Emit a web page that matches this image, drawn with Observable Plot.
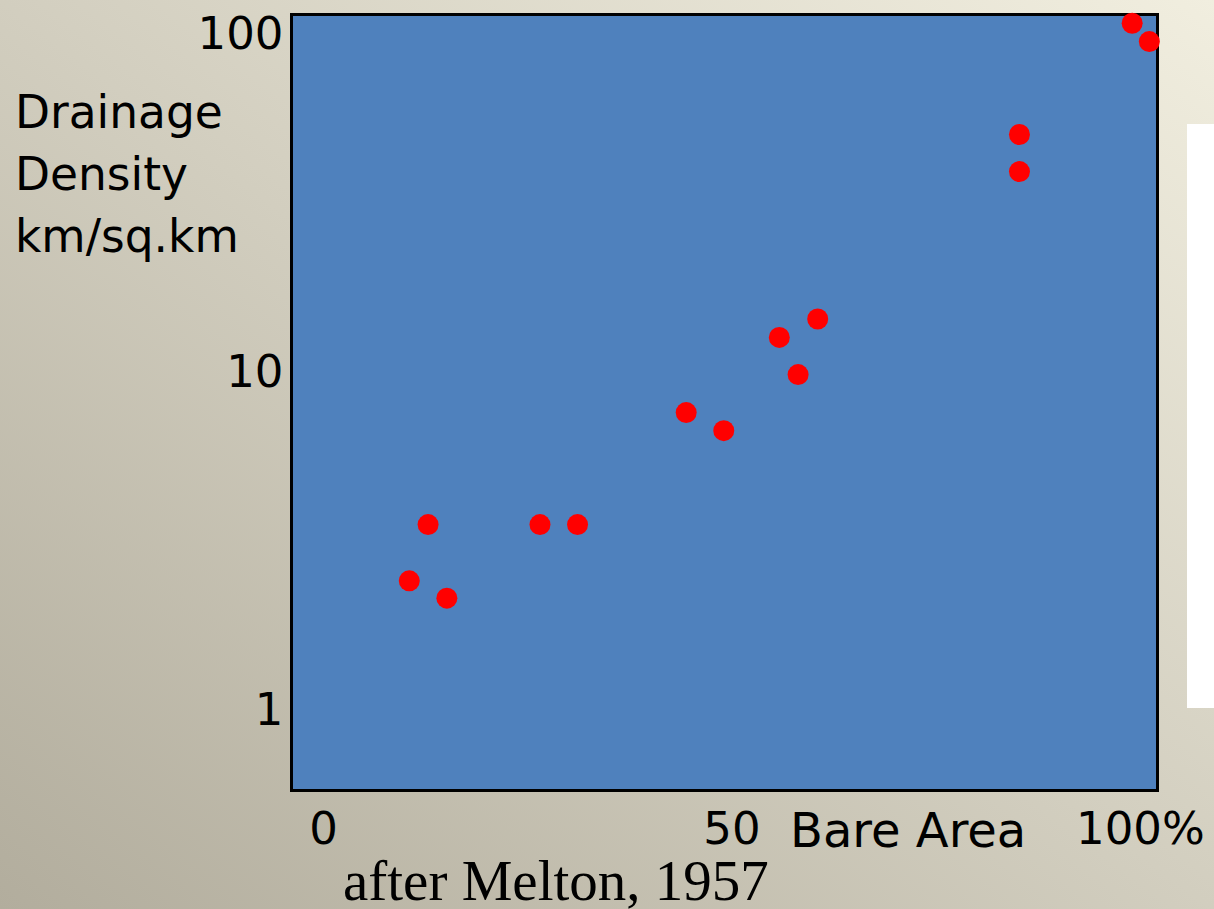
<!DOCTYPE html>
<html>
<head>
<meta charset="utf-8">
<script src="https://cdn.jsdelivr.net/npm/d3@7"></script>
<script src="https://cdn.jsdelivr.net/npm/@observablehq/plot@0.6"></script>
<style>
  html, body { margin: 0; padding: 0; }
  body {
    width: 1214px; height: 909px; overflow: hidden; position: relative;
    background: linear-gradient(to top right, #b2ad9d 0%, #d2cebf 50%, #f1eedf 100%);
    font-family: "Comic Sans MS", "DejaVu Sans", sans-serif;
  }
  #chart { position: absolute; left: 0; top: 0; }
  .abs { position: absolute; color: #000; white-space: nowrap; }
  #ylabel { left: 15px; top: 82px; font-size: 45.5px; line-height: 62px; }
  #xlabel { left: 790px; top: 801px; font-size: 48px; line-height: 58px; }
  #caption { left: 343px; top: 863px; font-family: "Liberation Serif", "Times New Roman", serif; font-size: 57px; line-height: 36px; }
  #whitebox { left: 1187px; top: 124px; width: 27px; height: 584px; background: #ffffff; }
</style>
</head>
<body>
<div id="whitebox" class="abs"></div>
<div id="chart"></div>
<div id="ylabel" class="abs">Drainage<br>Density<br>km/sq.km</div>
<div id="xlabel" class="abs">Bare Area</div>
<div id="caption" class="abs">after Melton, 1957</div>
<script>
const bareArea = [10.5, 12.8, 15.1, 26.5, 31.1, 44.4, 49.0, 55.8, 58.1, 60.5, 85.2, 85.2, 99.0, 101.1];
const drainageDensity = [2.42, 3.55, 2.15, 3.55, 3.55, 7.61, 6.73, 12.7, 9.86, 14.4, 50.6, 39.3, 108, 95.3];
const xTicks = [0, 50, 100];
const yTicks = [1, 10, 100];

const data = bareArea.map((x, i) => ({x, y: drainageDensity[i]}));
const font = '"Comic Sans MS", "DejaVu Sans", sans-serif';

const chart = Plot.plot({
  width: 1214,
  height: 909,
  marginLeft: 291,
  marginRight: 57,
  marginTop: 14,
  marginBottom: 119,
  style: { background: "transparent", fontFamily: font, color: "#000", overflow: "visible" },
  x: { type: "linear", domain: [-3.92, 102.1] },
  y: { type: "log", domain: [0.58, 114.6] },
  marks: [
    Plot.frame({ fill: "#4f81bd", stroke: "#000", strokeWidth: 3 }),
    Plot.axisY({ ticks: yTicks, tickSize: 0, tickPadding: 8, fontSize: 45, label: null, tickFormat: d => String(d) }),
    Plot.axisX({ ticks: xTicks, tickSize: 0, tickPadding: 22, fontSize: 45, label: null, tickFormat: d => d === 100 ? "100%" : String(d) }),
    Plot.dot(data, { x: "x", y: "y", r: 10.5, fill: "#ff0000", stroke: "none" })
  ]
});
document.getElementById("chart").appendChild(chart);
</script>
</body>
</html>
